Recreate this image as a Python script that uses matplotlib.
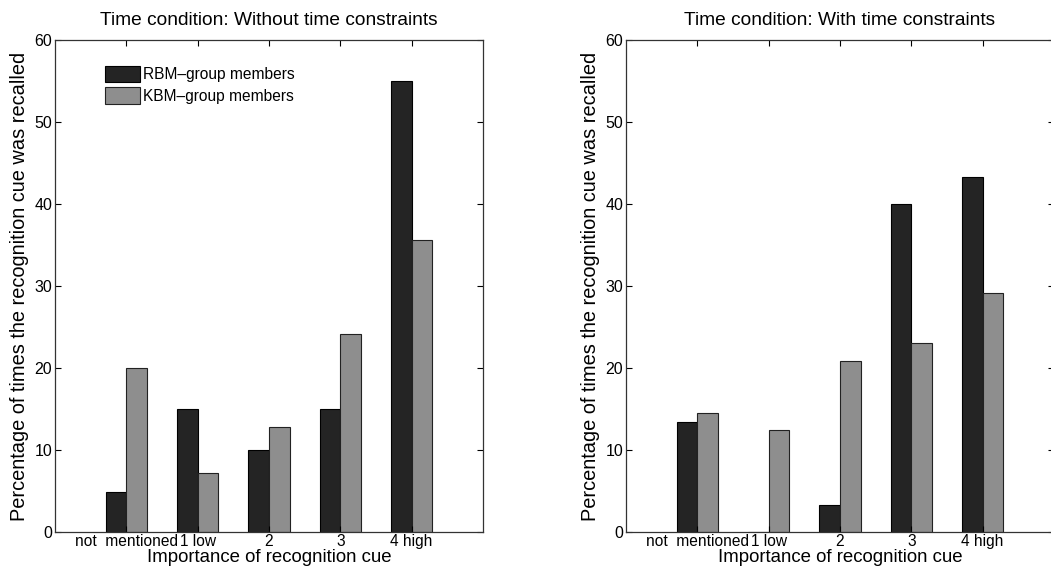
import matplotlib
matplotlib.use("Agg")
import matplotlib.pyplot as plt
import numpy as np

plt.rcParams['font.family'] = ['Liberation Sans', 'DejaVu Sans']

categories = ["not  mentioned", "1 low", "2", "3", "4 high"]
series_names = ["RBM\u2013group members", "KBM\u2013group members"]
rbm_without = [4.9, 15.0, 10.0, 15.0, 55.0]
kbm_without = [20.0, 7.2, 12.8, 24.2, 35.6]
rbm_with = [13.4, 0.0, 3.3, 40.0, 43.3]
kbm_with = [14.5, 12.4, 20.9, 23.0, 29.1]
titles = ["Time condition: Without time constraints", "Time condition: With time constraints"]

fig = plt.figure(figsize=(10.51, 5.72), dpi=100)
ax_w = 428 / 1051
ax_h = (532 - 40) / 572
bottom = (572 - 532) / 572
ax1 = fig.add_axes([55 / 1051, bottom, ax_w, ax_h])
ax2 = fig.add_axes([626 / 1051, bottom, ax_w, ax_h])

dark = '#242424'
gray = '#8e8e8e'
x = np.arange(1, len(categories) + 1)
bw = 0.29

for ax, rbm, kbm, title in [(ax1, rbm_without, kbm_without, titles[0]),
                            (ax2, rbm_with, kbm_with, titles[1])]:
    ax.bar(x - bw / 2, rbm, width=bw, color=dark, edgecolor='black', linewidth=0.8,
           label=series_names[0])
    ax.bar(x + bw / 2, kbm, width=bw, color=gray, edgecolor='#222222', linewidth=0.8,
           label=series_names[1])
    ax.set_xlim(0, 6)
    ax.set_ylim(0, 60)
    ax.set_xticks(x)
    ax.set_xticklabels(categories, fontsize=11.2)
    ax.set_yticks(np.arange(0, 61, 10))
    ax.tick_params(axis='y', labelsize=11.5, direction='in', length=4, right=True,
                   pad=2, width=0.8)
    ax.tick_params(axis='x', direction='in', length=4, top=True, pad=1.5, width=0.8)
    for s in ax.spines.values():
        s.set_linewidth(0.9)
        s.set_color('#333333')
    ax.set_title(title, fontsize=13.8, pad=11)
    ax.set_xlabel("Importance of recognition cue", fontsize=13.4, labelpad=0)
    ax.set_ylabel("Percentage of times the recognition cue was recalled", fontsize=14.4,
                  labelpad=4)

ax1.legend(loc='upper left', bbox_to_anchor=(0.103, 0.96), frameon=False, fontsize=11.2,
           handlelength=2.2, handleheight=1.25, handletextpad=0.2, labelspacing=0.32,
           borderaxespad=0)

fig.savefig("out.png", dpi=100)
